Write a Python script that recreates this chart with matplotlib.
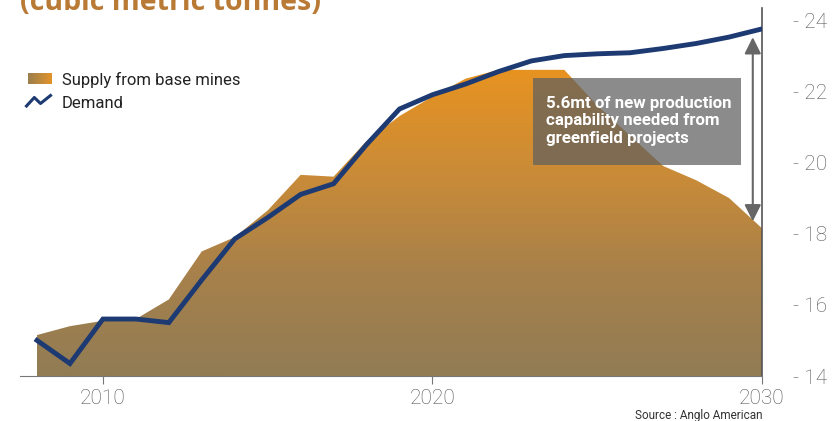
import matplotlib
matplotlib.use("Agg")
import matplotlib.pyplot as plt
import numpy as np
from matplotlib.colors import LinearSegmentedColormap
from matplotlib.lines import Line2D
from matplotlib.patches import PathPatch, Rectangle

years = list(range(2008, 2031))
supply = [15.15, 15.4, 15.55, 15.6, 16.15, 17.5, 17.9, 18.65, 19.65, 19.6, 20.6, 21.3,
          21.85, 22.35, 22.6, 22.6, 22.6, 21.6, 20.75, 19.9, 19.5, 19.0, 18.15]
demand = [15.0, 14.35, 15.6, 15.6, 15.5, 16.7, 17.85, 18.45, 19.1, 19.4, 20.5, 21.5,
          21.9, 22.2, 22.55, 22.85, 23.0, 23.05, 23.08, 23.2, 23.34, 23.52, 23.75]
y_ticks = [14, 16, 18, 20, 22, 24]
x_ticks = [2010, 2020, 2030]

W, H = 838, 421
fig = plt.figure(figsize=(W / 100, H / 100), dpi=100)
ax = fig.add_axes([20 / W, 1 - 376 / H, (762 - 20) / W, (376 - 8) / H])

base = 14
cmap = LinearSegmentedColormap.from_list(
    "ore", [(0.0, "#917c55"), (0.35, "#a8814a"), (0.65, "#c98b38"), (1.0, "#e79321")])

# supply area: vertical gradient clipped to the filled polygon
poly = ax.fill_between(years, base, supply, facecolor="none", edgecolor="none")
clip = PathPatch(poly.get_paths()[0], transform=ax.transData,
                 facecolor="none", edgecolor="none")
ax.add_patch(clip)
grad = np.linspace(0, 1, 256).reshape(-1, 1)
im = ax.imshow(grad, cmap=cmap, origin="lower", aspect="auto",
               extent=[years[0], years[-1], base, max(supply)], zorder=1)
im.set_clip_path(clip)
ax.set_xlim(2008 - 17 / 32.95, 2030)
ax.set_ylim(14, 14 + 368 / 35.6)

ax.plot(years, demand, color="#1d3a72", lw=3.5, solid_joinstyle="miter", zorder=3)

# annotation box and gap arrow
ax.add_patch(Rectangle((2023.05, 19.93), 6.3, 2.44, facecolor="#5f5f5f",
                       alpha=0.72, edgecolor="none", zorder=4))
ax.text(2023.45, 21.17, "5.6mt of new production\ncapability needed from\ngreenfield projects",
        color="white", fontsize=12.2, fontweight="bold", family="Roboto",
        va="center", ha="left", linespacing=1.2, zorder=5)
ax.annotate("", xy=(2029.72, supply[-1]), xytext=(2029.72, demand[-1]),
            arrowprops=dict(arrowstyle="<|-|>,head_length=1.0,head_width=0.5",
                            color="#666666", lw=1.5, shrinkA=6, shrinkB=5),
            zorder=5)

for s in ["top", "left"]:
    ax.spines[s].set_visible(False)
ax.spines["bottom"].set_color("#777777")
ax.spines["right"].set_color("#555555")
ax.spines["right"].set_linewidth(1.2)

ax.set_xticks(x_ticks)
ax.set_xticklabels([str(t) for t in x_ticks])
ax.tick_params(axis="x", length=6, color="#777777", pad=3, labelsize=15,
               labelcolor="#555555")
ax.yaxis.tick_right()
ax.set_yticks(y_ticks)
ax.set_yticklabels([f"- {t}" for t in y_ticks])
ax.tick_params(axis="y", length=0, pad=22, labelsize=15, labelcolor="#555555")
for lab in ax.get_xticklabels() + ax.get_yticklabels():
    lab.set_family("Roboto")
    lab.set_fontweight("light")

fig.text(20 / W, 1 - 10 / H, "(cubic metric tonnes)", color="#b97a36",
         fontsize=20.5, fontweight="bold", family="Open Sans", va="baseline")
fig.text(762 / W, 1 - 415 / H, "Source : Anglo American", color="#333333",
         fontsize=8.5, family=["Liberation Sans Narrow", "Roboto"],
         ha="right", va="center")

# legend
lax = fig.add_axes([28 / W, 1 - 84 / H, 23 / W, 11 / H])
lax.imshow(np.linspace(0, 1, 64).reshape(1, -1), cmap=LinearSegmentedColormap.from_list(
    "leg", ["#9a7f4e", "#e2932a"]), aspect="auto")
lax.axis("off")
fig.add_artist(Line2D(np.array([26.5, 34.3, 40.5, 50.5]) / W,
                      1 - np.array([106, 97.5, 103.5, 95.5]) / H,
                      color="#1d3a72", lw=2.2, transform=fig.transFigure))
fig.text(62 / W, 1 - 80 / H, "Supply from base mines", fontsize=12,
         family="Roboto", color="#222222", va="center")
fig.text(62 / W, 1 - 104 / H, "Demand", fontsize=12,
         family="Roboto", color="#222222", va="center")

fig.savefig("out.png", dpi=100)
